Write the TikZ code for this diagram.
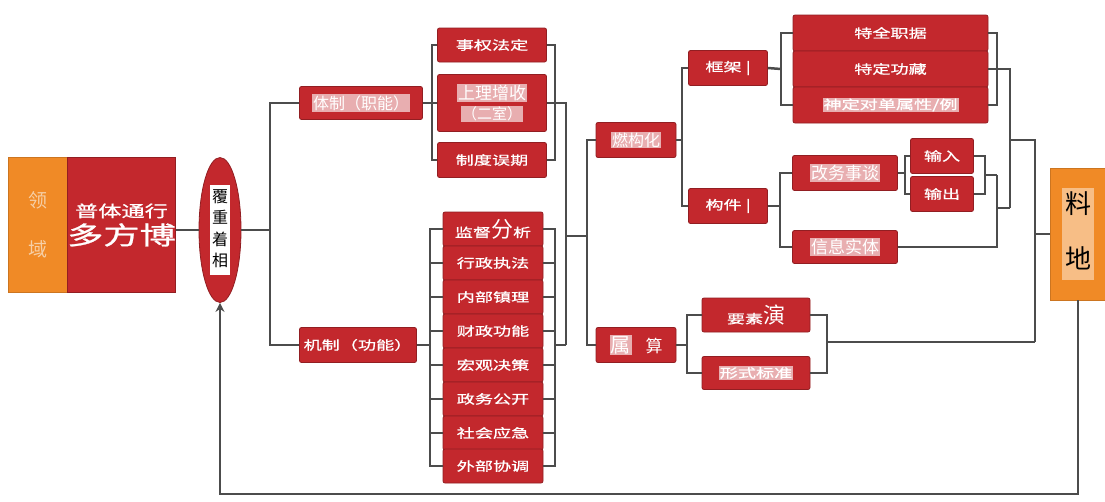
\documentclass[tikz,border=0pt]{standalone}
\usepackage{fontspec}
\setmainfont{Noto Sans CJK SC}
\newfontfamily\widecjk[FakeStretch=1.45,FakeBold=1]{Noto Sans CJK SC}
\usetikzlibrary{shapes.geometric,arrows.meta}
\definecolor{boxred}{HTML}{C3282D}
\definecolor{boxorange}{HTML}{F08A26}
\definecolor{linec}{HTML}{4C4C4C}
\definecolor{patchc}{HTML}{E8AEB0}
\definecolor{ltorange}{HTML}{F7BE86}
\definecolor{peach}{HTML}{F6CFA6}
\newcommand\myfs[1]{\fontsize{#1}{#1}\selectfont}
\newcommand\pk[1]{{\setlength{\fboxsep}{1pt}\colorbox{patchc}{#1}}}
\begin{document}
\begin{tikzpicture}[x=1pt,y=-1pt,
  redbox/.style={fill=boxred, draw=boxred!75!black, line width=0.8pt, rounded corners=2pt,
    text=white, inner sep=0pt, align=center, font=\widecjk\myfs{12.5}},
  orangebox/.style={fill=boxorange, draw=boxorange!85!black, line width=0.6pt,
    inner sep=0pt, align=center},
  normalfont/.style={font=\myfs{#1}},
  conn/.style={draw=linec, line width=2.5pt},
]
\useasboundingbox[fill=white] (0,0) rectangle (1105,501);

% left block
\node[orangebox, minimum width=60, minimum height=135, text=peach, font=\myfs{19}] (lyu) at (38,225)
  {领\\[30pt]域};
\node[redbox, minimum width=107, minimum height=135, rounded corners=0pt] (bo) at (121.5,225)
  {{\myfs{16}普体通行}\\[4pt]{\myfs{25}多方博}};
\node[ellipse, fill=boxred, draw=boxred!75!black, line width=0.8pt,
  minimum width=42, minimum height=145, inner sep=0pt] (el) at (220,230)
  {\setlength{\fboxsep}{2pt}\colorbox{white}{\fontsize{16}{21.5}\selectfont
   \begin{tabular}{@{}c@{}}覆\\重\\着\\相\end{tabular}}};

% second column
\node[redbox, minimum width=123, minimum height=33, normalfont=16] (tz) at (361,103) {\pk{体制（职能）}};
\node[redbox, minimum width=117, minimum height=35] (jz) at (358,345) {机制（功能）};

% top group
\node[redbox, minimum width=109, minimum height=34] (t1) at (492,45) {事权法定};
\node[redbox, minimum width=109, minimum height=57, normalfont=17] (t2) at (492,103)
  {\pk{上理增收}\\[3pt]{\myfs{15}\pk{（二室）}}};
\node[redbox, minimum width=109, minimum height=35] (t3) at (492,160) {制度误期};

% lower group
\node[redbox, minimum width=100, minimum height=34] (m1) at (493,229) {监督{\normalfont\myfs{22}分}析};
\node[redbox, minimum width=100, minimum height=34] (m2) at (493,263) {行政执法};
\node[redbox, minimum width=100, minimum height=34] (m3) at (493,297) {内部镇理};
\node[redbox, minimum width=100, minimum height=34] (m4) at (493,331) {财政功能};
\node[redbox, minimum width=100, minimum height=34] (m5) at (493,365) {宏观决策};
\node[redbox, minimum width=100, minimum height=34] (m6) at (493,399) {政务公开};
\node[redbox, minimum width=100, minimum height=34] (m7) at (493,433) {社会应急};
\node[redbox, minimum width=100, minimum height=34] (m8) at (493,466) {外部协调};

% right part
\node[redbox, minimum width=80, minimum height=35, normalfont=16] (jg) at (636,140) {\pk{燃构化}};
\node[redbox, minimum width=80, minimum height=35, normalfont=20] (sx) at (636,345) {\pk{属}\hspace{14pt}{\myfs{17}算}};
\node[redbox, minimum width=79, minimum height=35] (kj) at (728,68) {框架 |};
\node[redbox, minimum width=79, minimum height=35] (gj) at (728,206) {构件 |};
\node[redbox, minimum width=195, minimum height=36] (f1) at (890.5,33) {特全职据};
\node[redbox, minimum width=195, minimum height=36] (f2) at (890.5,69) {特定功藏};
\node[redbox, minimum width=195, minimum height=36] (f3) at (890.5,105) {\pk{神定对单属性/例}};
\node[redbox, minimum width=105, minimum height=35, normalfont=17] (gw) at (845,173) {\pk{改务事谈}};
\node[redbox, minimum width=105, minimum height=33, normalfont=17] (xx) at (845,247) {\pk{信息实体}};
\node[redbox, minimum width=63, minimum height=35] (sr) at (942,156) {输入};
\node[redbox, minimum width=63, minimum height=35] (sc) at (942,194) {输出};
\node[redbox, minimum width=108, minimum height=34] (ys) at (756,315) {要素{\normalfont\myfs{22}演}};
\node[redbox, minimum width=108, minimum height=33] (xs) at (756,373) {\pk{形式标准}};
\node[orangebox, minimum width=56, minimum height=132] (ld) at (1078,234)
  {\setlength{\fboxsep}{3pt}\colorbox{ltorange}{\myfs{26}\begin{tabular}{@{}c@{}}料\\[26pt]地\end{tabular}}};

% junction coordinates
\coordinate (b1) at (270,230);
\coordinate (b2) at (432,103);
\coordinate (b3) at (555,103);
\coordinate (b4) at (566,103);
\coordinate (b5) at (566,345);
\coordinate (b6) at (555,345);
\coordinate (b7) at (430,345);
\coordinate (c1) at (566,236);
\coordinate (c2) at (587,236);
\coordinate (c3) at (682,140);
\coordinate (c4) at (781,69);
\coordinate (c5) at (997,69);
\coordinate (c6) at (1010,69);
\coordinate (c7) at (1010,208);
\coordinate (c8) at (1010,140);
\coordinate (c9) at (1035,140);
\coordinate (c10) at (1035,342);
\coordinate (c11) at (1035,234);
\coordinate (c12) at (780,206);
\coordinate (c13) at (905,173);
\coordinate (c14) at (985,175);
\coordinate (c15) at (997,175);
\coordinate (c16) at (997,208);
\coordinate (c17) at (687,345);
\coordinate (c18) at (827,342);
\coordinate (c19) at (220,494);

% connectors
\draw[conn] (bo.east |- el.west) -- (el.west);
\draw[conn] (el.east) -- (b1);
\draw[conn] (tz.west) -| (b1) |- (jz.west);
\draw[conn] (tz.east) -- (b2);
\draw[conn] (t1.west) -| (b2) |- (t3.west);
\draw[conn] (t2.west) -- (b2);
\draw[conn] (t1.east) -| (b3) |- (t3.east);
\draw[conn] (t2.east) -- (b3) -- (b4) -- (b5);
\draw[conn] (jz.east) -- (b7);
\draw[conn] (m1.west) -| (b7) |- (m8.west);
\draw[conn] (m1.east) -| (b6) |- (m8.east);
\foreach \i in {2,...,7}{
  \draw[conn] (m\i.west) -- (m\i.west -| b7);
  \draw[conn] (m\i.east) -- (m\i.east -| b6);
}
\draw[conn] (b6) -- (b5);
\draw[conn] (c1) -- (c2);
\draw[conn] (jg.west) -| (c2) |- (sx.west);
\draw[conn] (jg.east) -- (c3);
\draw[conn] (kj.west) -| (c3) |- (gj.west);
\draw[conn] (kj.east) -- (c4);
\draw[conn] (f1.west) -| (c4) |- (f3.west);
\draw[conn] (f1.east) -| (c5) |- (f3.east);
\draw[conn] (f2.east) -- (c5) -- (c6) -- (c7);
\draw[conn] (c8) -- (c9) -- (c10);
\draw[conn] (c11) -- (ld.west);
\draw[conn] (gj.east) -- (c12);
\draw[conn] (gw.west) -| (c12) |- (xx.west);
\draw[conn] (gw.east) -- (c13);
\draw[conn] (sr.west) -| (c13) |- (sc.west);
\draw[conn] (sr.east) -| (c14) |- (sc.east);
\draw[conn] (c14) -- (c15);
\draw[conn] (xx.east) -| (c15);
\draw[conn] (c16) -- (c7);
\draw[conn] (sx.east) -- (c17);
\draw[conn] (ys.west) -| (c17) |- (xs.west);
\draw[conn] (ys.east) -| (c18) |- (xs.east);
\draw[conn] (c18) -- (c10);
\draw[conn, -{Stealth[length=9pt,width=9pt]}] (ld.south) |- (c19) -- (el.south);
\end{tikzpicture}
\end{document}
